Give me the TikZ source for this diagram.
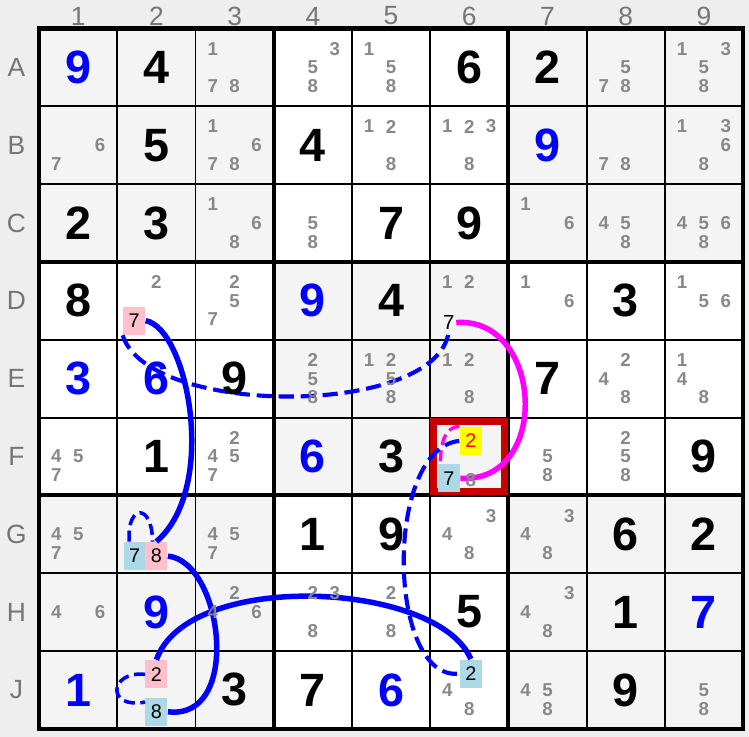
\documentclass[tikz,border=0pt]{standalone}
\usepackage{fontspec}
\setmainfont{Liberation Sans}

\definecolor{cellgray}{RGB}{244,244,244}
\definecolor{margingray}{RGB}{238,238,238}
\definecolor{candgray}{RGB}{136,136,136}
\definecolor{labelgray}{RGB}{117,117,117}
\definecolor{hlpink}{RGB}{255,192,203}
\definecolor{hlblue}{RGB}{173,216,230}
\definecolor{hlyellow}{RGB}{255,255,0}
\definecolor{linkblue}{RGB}{0,0,255}
\definecolor{linkmagenta}{RGB}{255,0,255}
\definecolor{textred}{RGB}{255,0,0}
\definecolor{framered}{RGB}{200,0,0}

\begin{document}
\begin{tikzpicture}[x=1cm, y=-0.995cm,
  given/.style={font=\fontsize{17}{17}\selectfont\bfseries},
  solved/.style={given, text=linkblue},
  cand/.style={font=\fontsize{6.8}{6.8}\selectfont\bfseries, text=candgray, inner sep=0pt},
  hl/.style={font=\fontsize{7.2}{7.2}\selectfont, inner sep=0pt, minimum width=0.28cm, minimum height=0.358cm},
  lbl/.style={font=\fontsize{9.6}{9.6}\selectfont, text=labelgray},
  stronglink/.style={linkblue, line width=2pt},
  weaklink/.style={linkblue, line width=1.5pt, dash pattern=on 5.5pt off 2.5pt},
  smalllink/.style={linkblue, line width=1.3pt, dash pattern=on 4pt off 2pt}]

  % background and cells
  \fill[margingray] (-0.5,-0.366) rectangle (9.077,9.103);
  \useasboundingbox (-0.5,-0.366) rectangle (9.077,9.103);
  \foreach \c in {1,...,9}
    \node[lbl] (col\c) at (\c-0.5,-0.16) {\c};
  \foreach \l [count=\r] in {A,B,C,D,E,F,G,H,J}
    \node[lbl] (row\l) at (-0.29,\r-0.5) {\l};
  \fill[white] (0,0) rectangle (9,9);
  \foreach \bx/\by in {0/0, 6/0, 3/3, 0/6, 6/6}
    \fill[cellgray] (\bx,\by) rectangle ++(3,3);

  % grid
  \foreach \i in {1,2,4,5,7,8} {
    \draw[line width=0.7pt] (\i,0) -- (\i,9);
    \draw[line width=0.7pt] (0,\i) -- (9,\i);
  }
  \foreach \i in {3,6} {
    \draw[line width=1.5pt] (\i,0) -- (\i,9);
    \draw[line width=1.5pt] (0,\i) -- (9,\i);
  }
  \draw[line width=1.6pt] (0,0) rectangle (9,9);
  \draw[framered, line width=2.55pt] (5.045,5.045) rectangle (5.955,5.955);

  % highlighted candidates
  \node[hl, fill=hlpink] (d2x) at (1.215,3.755) {7};
  \node[hl, fill=hlblue] (g2a) at (1.22,6.78) {7};
  \node[hl, fill=hlpink] (g2b) at (1.50,6.78) {8};
  \node[hl, fill=hlpink] (j2a) at (1.50,8.30) {2};
  \node[hl, fill=hlblue] (j2b) at (1.50,8.78) {8};
  \node[hl, fill=hlblue] (j6x) at (5.52,8.29) {2};
  \node[hl, fill=hlyellow, text=textred] (f6a) at (5.52,5.30) {2};
  \node[hl, fill=hlblue] (f6b) at (5.24,5.78) {7};
  \node[font=\fontsize{7.4}{7.4}\selectfont, inner sep=0.5pt] (d6x) at (5.237,3.779) {7};

  % links
  \draw[stronglink] (d2x.east) .. controls (1.9,3.85) and (2.3,5.9) .. (g2b.north);
  \draw[weaklink] (d2x.south west) .. controls (1.4,5.0) and (5.1,5.0) .. (d6x.south);
  \draw[linkmagenta, line width=2pt] (d6x.east) .. controls (6.45,3.7) and (6.55,5.85) .. (f6b.east);
  \draw[linkmagenta, line width=1.2pt, dash pattern=on 4pt off 2pt] (f6a.north west) .. controls (5.2,5.12) and (5.13,5.3) .. (f6b.120);
  \draw[weaklink] (f6a.west) .. controls (4.4,5.4) and (4.45,8.4) .. (j6x.west);
  \draw[stronglink] (j6x.north) .. controls (5.1,7.1) and (1.9,6.95) .. (j2a.north);
  \draw[stronglink] (g2b.east) .. controls (2.35,6.85) and (2.6,8.9) .. (j2b.east);
  \draw[smalllink] (g2a.110) .. controls (1.12,6.1) and (1.45,6.1) .. (g2b.105);
  \draw[smalllink] (j2a.west) .. controls (0.9,8.25) and (0.85,8.75) .. (j2b.140);

  % givens
  \foreach \r/\c/\v in {1/2/4, 1/6/6, 1/7/2, 2/2/5, 2/4/4, 3/1/2, 3/2/3, 3/5/7, 3/6/9,
      4/1/8, 4/5/4, 4/8/3, 5/3/9, 5/7/7, 6/2/1, 6/5/3, 6/9/9, 7/4/1, 7/5/9, 7/8/6,
      7/9/2, 8/6/5, 8/8/1, 9/3/3, 9/4/7, 9/8/9}
    \node[given] (n\r\c) at (\c-0.5,\r-0.5) {\v};
  \foreach \r/\c/\v in {1/1/9, 2/7/9, 4/4/9, 5/1/3, 5/2/6, 6/4/6, 8/2/9, 8/9/7, 9/1/1, 9/5/6}
    \node[solved] (n\r\c) at (\c-0.5,\r-0.5) {\v};

  % candidates
  \foreach \r/\c/\ds in {1/3/{1,7,8}, 1/4/{3,5,8}, 1/5/{1,5,8}, 1/8/{5,7,8}, 1/9/{1,3,5,8},
      2/1/{6,7}, 2/3/{1,6,7,8}, 2/5/{1,2,8}, 2/6/{1,2,3,8}, 2/8/{7,8}, 2/9/{1,3,6,8},
      3/3/{1,6,8}, 3/4/{5,8}, 3/7/{1,6}, 3/8/{4,5,8}, 3/9/{4,5,6,8},
      4/2/{2}, 4/3/{2,5,7}, 4/6/{1,2}, 4/7/{1,6}, 4/9/{1,5,6},
      5/4/{2,5,8}, 5/5/{1,2,5,8}, 5/6/{1,2,8}, 5/8/{2,4,8}, 5/9/{1,4,8},
      6/1/{4,5,7}, 6/3/{2,4,5,7}, 6/7/{5,8}, 6/8/{2,5,8},
      7/1/{4,5,7}, 7/3/{4,5,7}, 7/6/{3,4,8}, 7/7/{3,4,8},
      8/1/{4,6}, 8/3/{2,4,6}, 8/4/{2,3,8}, 8/5/{2,8}, 8/7/{3,4,8},
      9/6/{4,8}, 9/7/{4,5,8}, 9/9/{5,8}} {
    \foreach \d in \ds {
      \pgfmathsetmacro\cx{\c-0.5+0.28*(mod(\d-1,3)-1)}
      \pgfmathsetmacro\cy{\r-0.5+0.24*(floor((\d-1)/3)-1)}
      \node[cand] (c\r\c\d) at (\cx,\cy) {\d};
    }
  }
  \node[cand] (f6c) at (5.52,5.80) {8};
\end{tikzpicture}
\end{document}
